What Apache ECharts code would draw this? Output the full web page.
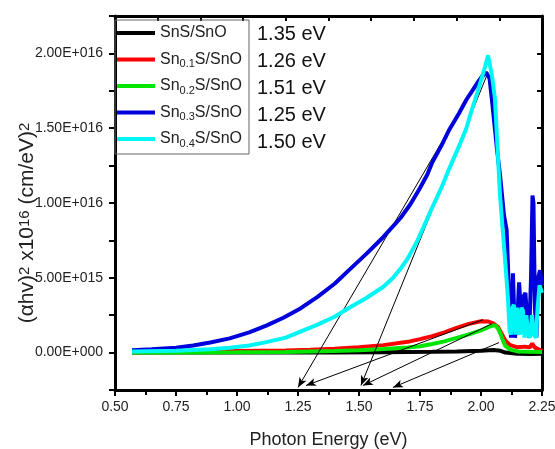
<!DOCTYPE html>
<html>
<head>
<meta charset="utf-8">
<script src="https://cdn.jsdelivr.net/npm/echarts@6/dist/echarts.min.js"></script>
<style>html,body{margin:0;padding:0;background:#fff;}#c{width:555px;height:449px;}</style>
</head>
<body>
<div id="c"></div>
<script>
// ---- data (y in units of 1e16 (cm/eV)^2) ----
var seriesNames = ['SnS/SnO', 'Sn0.1S/SnO', 'Sn0.2S/SnO', 'Sn0.3S/SnO', 'Sn0.4S/SnO'];
var bandGaps = ['1.35 eV', '1.26 eV', '1.51 eV', '1.25 eV', '1.50 eV'];
var colors = ['#000000', '#ff0000', '#00e600', '#0000dc', '#00f5f5'];

var blackX = [0.57, 0.8, 1.0, 1.2, 1.4, 1.6, 1.8, 1.9, 2.0, 2.05, 2.08, 2.1, 2.15, 2.2, 2.25];
var blackY = [0, 0, 0, 0, 0.001, 0.002, 0.005, 0.008, 0.013, 0.017, 0.012, 0.0, -0.008, -0.009, -0.008];

var redX = [0.57, 0.8, 1.0, 1.2, 1.3, 1.4, 1.5, 1.6, 1.7, 1.75, 1.8, 1.85, 1.9, 1.95, 2.0, 2.03, 2.05, 2.07, 2.08, 2.09, 2.1, 2.12, 2.15, 2.18, 2.2, 2.21, 2.22, 2.25];
var redY = [0.003, 0.006, 0.01, 0.014, 0.019, 0.025, 0.035, 0.05, 0.072, 0.09, 0.11, 0.135, 0.165, 0.192, 0.21, 0.208, 0.195, 0.17, 0.14, 0.11, 0.08, 0.05, 0.035, 0.04, 0.035, 0.06, 0.035, 0.01];

var greenX = [0.57, 0.8, 1.0, 1.2, 1.4, 1.5, 1.6, 1.7, 1.75, 1.8, 1.85, 1.9, 1.95, 2.0, 2.03, 2.05, 2.06, 2.07, 2.08, 2.09, 2.1, 2.12, 2.15, 2.2, 2.25];
var greenY = [0, 0.001, 0.002, 0.004, 0.01, 0.015, 0.024, 0.034, 0.042, 0.058, 0.075, 0.098, 0.122, 0.148, 0.17, 0.182, 0.18, 0.16, 0.125, 0.08, 0.045, 0.02, 0.008, 0.005, 0.004];

var blueX = [0.57, 0.65, 0.75, 0.82, 0.89, 0.97, 1.05, 1.12, 1.19, 1.26, 1.33, 1.4, 1.46, 1.53, 1.6, 1.64, 1.67, 1.71, 1.75, 1.78, 1.8, 1.84, 1.87, 1.91, 1.94, 1.97, 1.99, 2.02, 2.035, 2.045, 2.066, 2.078, 2.094, 2.105, 2.111, 2.117, 2.123, 2.131, 2.139, 2.148, 2.156, 2.163, 2.168, 2.176, 2.182, 2.19, 2.197, 2.205, 2.211, 2.215, 2.221, 2.227, 2.234, 2.242, 2.25];
var blueY = [0.015, 0.022, 0.033, 0.048, 0.067, 0.095, 0.135, 0.18, 0.233, 0.295, 0.373, 0.46, 0.553, 0.66, 0.773, 0.845, 0.9, 0.99, 1.1, 1.19, 1.27, 1.39, 1.49, 1.6, 1.69, 1.765, 1.815, 1.873, 1.833, 1.687, 1.353, 1.187, 0.92, 0.82, 0.81, 0.3, 0.1, 0.53, 0.1, 0.2, 0.47, 0.3, 0.15, 0.38, 0.4, 0.2, 0.1, 0.5, 1.05, 1.0, 0.3, 0.1, 0.5, 0.55, 0.45];

var cyanX = [0.57, 0.75, 0.89, 0.97, 1.05, 1.12, 1.2, 1.26, 1.33, 1.4, 1.46, 1.53, 1.6, 1.64, 1.67, 1.7, 1.74, 1.77, 1.8, 1.84, 1.87, 1.91, 1.94, 1.96, 1.984, 2.0, 2.016, 2.029, 2.045, 2.057, 2.07, 2.078, 2.09, 2.102, 2.111, 2.117, 2.123, 2.129, 2.135, 2.141, 2.148, 2.154, 2.16, 2.166, 2.172, 2.178, 2.186, 2.193, 2.201, 2.209, 2.217, 2.225, 2.232, 2.24, 2.25];
var cyanY = [0.008, 0.013, 0.022, 0.032, 0.047, 0.07, 0.1, 0.14, 0.187, 0.24, 0.3, 0.365, 0.44, 0.5, 0.56, 0.63, 0.75, 0.86, 0.97, 1.11, 1.23, 1.38, 1.5, 1.61, 1.733, 1.82, 1.907, 1.987, 1.85, 1.7, 1.3, 1.05, 0.8, 0.55, 0.35, 0.15, 0.12, 0.3, 0.32, 0.12, 0.3, 0.15, 0.12, 0.3, 0.28, 0.1, 0.25, 0.12, 0.1, 0.25, 0.12, 0.1, 0.3, 0.45, 0.4];

// tangent arrows: start [eV, y], end [eV, y]
var arrowFrom = [[2.016, 1.90], [2.029, 1.873], [2.008, 0.22], [2.045, 0.193], [2.074, 0.067]];
var arrowTo = [[1.25, -0.233], [1.508, -0.22], [1.283, -0.22], [1.516, -0.22], [1.639, -0.233]];

var xTicks = {min: 0.5, max: 2.25, interval: 0.25};
var yTicks = {min: -0.25, max: 2.25, interval: 0.25};

// ---- helpers ----
function pairs(xs, ys) { return xs.map(function (x, i) { return [x, ys[i]]; }); }
var FONT = 'Liberation Sans, Arial, sans-serif';
function fmtY(v) {
  var k = v / 0.5;
  if (Math.abs(k - Math.round(k)) > 1e-6 || v < -1e-9 || v > 2.0001) return '';
  var val = Math.round(k) * 0.5 * 1e16;
  if (val === 0) return '0.00E+000';
  var e = Math.floor(Math.log10(val) + 1e-9);
  var m = val / Math.pow(10, e);
  return m.toFixed(2) + 'E+' + String(e).padStart(3, '0');
}

var allX = [blackX, redX, greenX, blueX, cyanX];
var allY = [blackY, redY, greenY, blueY, cyanY];
var series = seriesNames.map(function (n, i) {
  return {
    name: n, type: 'line', symbol: 'none', smooth: false,
    data: pairs(allX[i], allY[i]),
    lineStyle: {color: colors[i], width: 4},
    itemStyle: {color: colors[i]},
    z: 2 + i, animation: false
  };
});
series.push({
  name: 'arrows', type: 'line', data: [], z: 20, animation: false,
  markLine: {
    silent: true, animation: false,
    symbol: ['none', 'arrow'], symbolSize: [6, 10],
    label: {show: false},
    lineStyle: {color: '#000', width: 1, type: 'solid'},
    data: arrowFrom.map(function (a, i) { return [{coord: a}, {coord: arrowTo[i]}]; })
  }
});

var axisLine = {show: true, onZero: false, lineStyle: {color: '#000', width: 3}};

var chart = echarts.init(document.getElementById('c'));
chart.setOption({
  backgroundColor: '#fff',
  animation: false,
  grid: {left: 115, right: 13, top: 16, bottom: 59, containLabel: false, outerBoundsMode: 'none'},
  legend: {
    data: seriesNames, orient: 'vertical', left: 115, top: 20,
    icon: 'rect', itemWidth: 38, itemHeight: 4, itemGap: 6.5,
    padding: [3, 7, 5, 2],
    borderColor: '#666', borderWidth: 1,
    textStyle: {fontFamily: FONT, fontSize: 16, color: '#222', lineHeight: 20,
      rich: {sub: {fontFamily: FONT, fontSize: 11, color: '#222', verticalAlign: 'bottom', lineHeight: 14}}},
    formatter: function (n) { return n.replace(/Sn(0\.\d)/, 'Sn{sub|$1}'); }
  },
  xAxis: [{
    type: 'value', position: 'bottom', min: xTicks.min, max: xTicks.max, interval: xTicks.interval,
    name: 'Photon Energy (eV)', nameLocation: 'middle', nameGap: 41, nameMoveOverlap: false,
    nameTextStyle: {fontFamily: FONT, fontSize: 18, color: '#222'},
    axisLine: axisLine,
    axisTick: {show: true, inside: false, length: 6, lineStyle: {color: '#000', width: 2}},
    minorTick: {show: true, splitNumber: 2, length: 5, lineStyle: {color: '#000', width: 2}},
    splitLine: {show: false},
    axisLabel: {fontFamily: FONT, fontSize: 14, color: '#222', margin: 10,
      formatter: function (v) { return v.toFixed(2); }}
  }, {
    type: 'value', position: 'top', min: xTicks.min, max: xTicks.max, interval: 0.175,
    axisLine: axisLine,
    axisTick: {show: true, inside: true, length: 5, lineStyle: {color: '#000', width: 2}},
    axisLabel: {show: false}, splitLine: {show: false}
  }],
  yAxis: [{
    type: 'value', position: 'left', min: yTicks.min, max: yTicks.max, interval: yTicks.interval,
    name: '(αhv){sup|2} x10{sup|16} (cm/eV){sup|2}', nameLocation: 'middle', nameGap: 77, nameMoveOverlap: false,
    nameTextStyle: {fontFamily: FONT, fontSize: 21, color: '#222', padding: [0, 40, 0, 0],
      rich: {sup: {fontFamily: FONT, fontSize: 15, color: '#222', verticalAlign: 'top'}}},
    axisLine: axisLine,
    axisTick: {show: true, inside: false, length: 6, lineStyle: {color: '#000', width: 2}},
    splitLine: {show: false},
    axisLabel: {fontFamily: FONT, fontSize: 14, color: '#222', margin: 12, formatter: fmtY}
  }, {
    type: 'value', position: 'right', min: yTicks.min, max: yTicks.max, interval: yTicks.interval,
    axisLine: axisLine,
    axisTick: {show: true, inside: true, length: 5, lineStyle: {color: '#000', width: 2}},
    axisLabel: {show: false}, splitLine: {show: false}
  }],
  graphic: bandGaps.map(function (t, i) {
    return {type: 'text', left: 257, top: 24 + i * 27, z: 50,
      style: {text: t, fontFamily: FONT, fontSize: 20, fill: '#111'}};
  }),
  series: series
});
</script>
</body>
</html>
